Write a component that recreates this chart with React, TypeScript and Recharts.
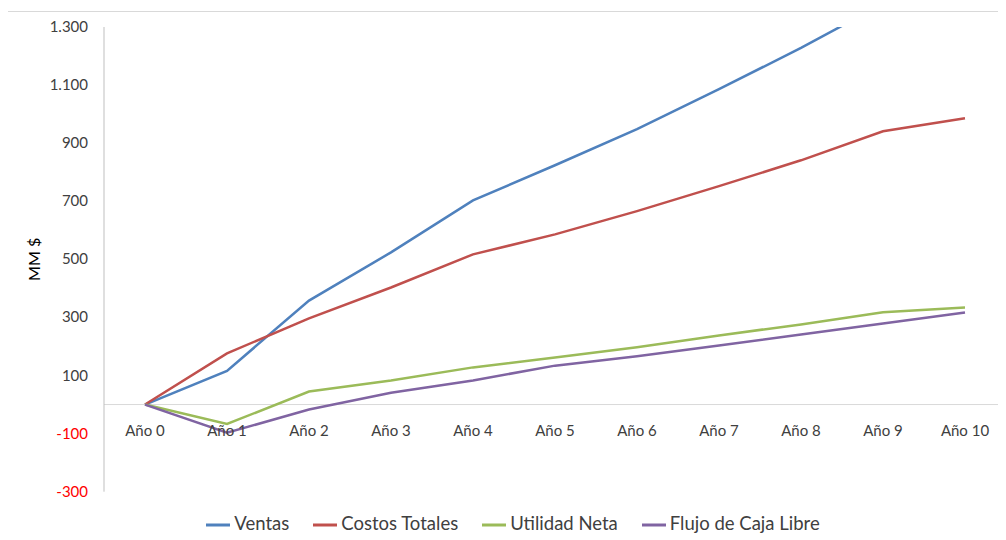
import { LineChart, Line, XAxis, YAxis, ReferenceLine, Legend } from "recharts"

const years = ["Año 0", "Año 1", "Año 2", "Año 3", "Año 4", "Año 5", "Año 6", "Año 7", "Año 8", "Año 9", "Año 10"]
const ventas = [0, 116, 358, 524, 703, 824, 948, 1086, 1228, 1380, 1470]
const costosTotales = [0, 176, 297, 403, 517, 586, 666, 752, 841, 941, 986]
const utilidadNeta = [0, -67, 45, 83, 128, 162, 197, 238, 276, 318, 334]
const flujoCajaLibre = [0, -97, -17, 41, 83, 134, 166, 203, 241, 279, 317]
const yTicks = [-300, -100, 100, 300, 500, 700, 900, 1100, 1300]
const seriesNames = ["Ventas", "Costos Totales", "Utilidad Neta", "Flujo de Caja Libre"]

const Y_MIN = -300
const Y_MAX = 1300
const PLOT_H = 464

const data = years.map((year, i) => ({
  year,
  ventas: ventas[i],
  costos: costosTotales[i],
  utilidad: utilidadNeta[i],
  flujo: flujoCajaLibre[i],
}))

const FONT = "Lato, 'Open Sans', sans-serif"

const fmt = (v: number) => {
  const s = Math.abs(v).toString().replace(/\B(?=(\d{3})+(?!\d))/g, ".")
  return v < 0 ? `-${s}` : s
}

function YTick(props: any) {
  const { x, y, payload } = props
  return (
    <text x={x} y={y} dx={-8} dy={5} textAnchor="end" fontSize={15} fontFamily={FONT} fill={payload.value < 0 ? "#ff0000" : "#404040"}>
      {fmt(payload.value)}
    </text>
  )
}

// category labels sit just under the zero line, not at the bottom of the plot
function XTick(props: any) {
  const { x, y, payload } = props
  const shift = (PLOT_H * (0 - Y_MIN)) / (Y_MAX - Y_MIN)
  return (
    <text x={x} y={y - shift} dy={23} textAnchor="middle" fontSize={15} fontFamily={FONT} fill="#404040">
      {payload.value}
    </text>
  )
}

export default function App() {
  return (
    <div style={{ marginLeft: -1, marginTop: 3, width: 1010, height: 540, border: "1px solid #d9d9d9", boxSizing: "border-box" }}>
      <LineChart width={998} height={528} data={data} margin={{ top: 15, right: 0, left: 0, bottom: 3 }}>
        <XAxis
          dataKey="year"
          axisLine={false}
          tickLine={false}
          tick={<XTick />}
          height={20}
          interval={0}
          padding={{ left: 41, right: 41 }}
        />
        <YAxis
          domain={[Y_MIN, Y_MAX]}
          ticks={yTicks}
          allowDataOverflow
          width={96}
          axisLine={{ stroke: "#bfbfbf" }}
          tickLine={false}
          tick={<YTick />}
          label={{
            value: "MM $",
            angle: -90,
            position: "insideLeft",
            offset: 26,
            style: { textAnchor: "middle", fontSize: 16, fontFamily: FONT, fill: "#000" },
          }}
        />
        <ReferenceLine y={0} stroke="#d9d9d9" />
        <Line dataKey="ventas" name="Ventas" stroke="#4f81bd" strokeWidth={2.5} dot={false} isAnimationActive={false} />
        <Line dataKey="costos" name="Costos Totales" stroke="#c0504d" strokeWidth={2.5} dot={false} isAnimationActive={false} />
        <Line dataKey="utilidad" name="Utilidad Neta" stroke="#9bbb59" strokeWidth={2.5} dot={false} isAnimationActive={false} />
        <Line dataKey="flujo" name="Flujo de Caja Libre" stroke="#8064a2" strokeWidth={2.5} dot={false} isAnimationActive={false} />
        <Legend
          verticalAlign="bottom"
          iconType="plainline"
          iconSize={24}
          itemSorter={(item: any) => seriesNames.indexOf(item.value)}
          wrapperStyle={{ fontFamily: FONT, fontSize: 18.5, left: 18 }}
          formatter={(v) => <span style={{ color: "#404040", marginRight: 14 }}>{v}</span>}
        />
      </LineChart>
    </div>
  )
}
